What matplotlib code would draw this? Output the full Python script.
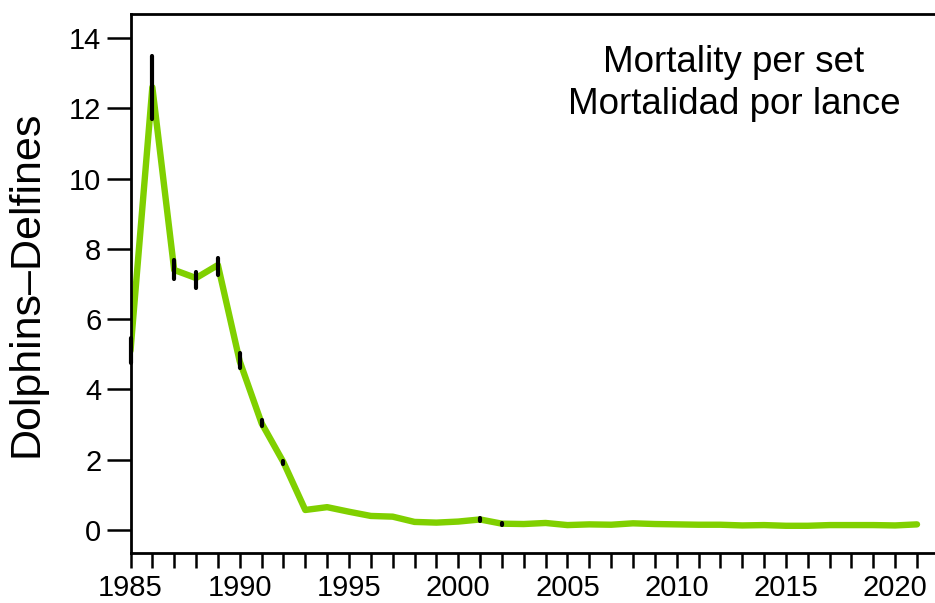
import matplotlib
matplotlib.use("Agg")
import matplotlib.pyplot as plt
import numpy as np

plt.rcParams['font.family'] = ['Liberation Sans', 'DejaVu Sans']

years = list(range(1985, 2022))
mortality = [5.10, 12.60, 7.40, 7.17, 7.54, 4.80, 3.04, 1.93, 0.57, 0.65,
             0.52, 0.40, 0.38, 0.23, 0.21, 0.24, 0.30, 0.18, 0.17, 0.20,
             0.14, 0.16, 0.15, 0.19, 0.17, 0.16, 0.15, 0.15, 0.13, 0.14,
             0.12, 0.12, 0.14, 0.14, 0.14, 0.13, 0.16]
err_years = [1985, 1986, 1987, 1988, 1989, 1990, 1991, 1992, 2001, 2002]
err_low = [4.75, 11.70, 7.14, 6.90, 7.26, 4.61, 2.96, 1.89, 0.27, 0.15]
err_high = [5.45, 13.50, 7.68, 7.34, 7.74, 5.04, 3.12, 1.97, 0.33, 0.21]

yticks = [0, 2, 4, 6, 8, 10, 12, 14]
xmajor = [1985, 1990, 1995, 2000, 2005, 2010, 2015, 2020]
xminor = list(range(1986, 2022))

W, H = 935, 603
fig = plt.figure(figsize=(W / 100, H / 100), dpi=100)
ax = fig.add_axes([130.5 / W, 1 - 553 / H, 1 - 130.5 / W, (553 - 14) / H])

ax.plot(years, mortality, color='#80D000', lw=4.6, solid_capstyle='round',
        solid_joinstyle='round', zorder=2)
ax.vlines(err_years, err_low, err_high, color='black', lw=3.0, zorder=3,
          capstyle='round', clip_on=False)

ax.set_xlim(1985, 1985 + (W - 130.4) / 21.85)
ax.set_ylim(-23 / 35.14, (530 - 14) / 35.14)

ax.set_yticks(yticks)
ax.set_yticklabels([str(v) for v in yticks])
ax.set_xticks(xmajor)
ax.set_xticklabels([str(v) for v in xmajor])
ax.set_xticks(xminor, minor=True)

ax.tick_params(axis='y', length=17, width=1.8, pad=4, labelsize=21)
ax.tick_params(axis='x', which='major', length=11, width=1.8, pad=4, labelsize=21)
ax.tick_params(axis='x', which='minor', length=11, width=1.8)

for s in ['left', 'top', 'bottom']:
    ax.spines[s].set_linewidth(2)
ax.spines['right'].set_visible(False)

ax.set_ylabel('Dolphins\u2013Delfines', fontsize=31, labelpad=16)

ax.text(734 / W, 1 - 63 / H, 'Mortality per set', transform=fig.transFigure,
        ha='center', va='center', fontsize=26.5)
ax.text(734 / W, 1 - 105 / H, 'Mortalidad por lance', transform=fig.transFigure,
        ha='center', va='center', fontsize=26.5)

fig.savefig('out.png', dpi=100)
